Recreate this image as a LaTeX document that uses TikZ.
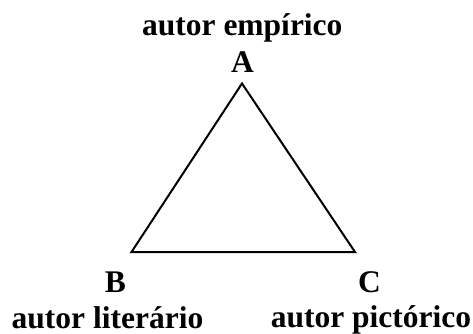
\documentclass[tikz,border=0pt]{standalone}
\usepackage{fontspec}
\setmainfont{Liberation Serif}
\begin{document}
\begin{tikzpicture}[x=1pt,y=-1pt,
  lbl/.style={font=\fontsize{31.5}{34}\selectfont\bfseries, inner sep=0pt, anchor=base},
  edge/.style={draw=black, line width=2pt, line join=miter}]
\useasboundingbox (0,0) rectangle (473,334);
\coordinate (A) at (242,83.5);
\coordinate (B) at (131.5,252);
\coordinate (C) at (355,252);
\draw[edge] (A) -- (B) -- (C) -- cycle;
\node[lbl] (t1) at (242.3,36) {autor empírico};
\node[lbl] (tA) at (242.5,73) {A};
\node[lbl] (tB) at (115.5,292.7) {B};
\node[lbl] (tC) at (369.5,292.7) {C};
\node[lbl] (t2) at (107.5,328) {autor literário};
\node[lbl] (t3) at (371,327.5) {autor pictórico};
\end{tikzpicture}
\end{document}
